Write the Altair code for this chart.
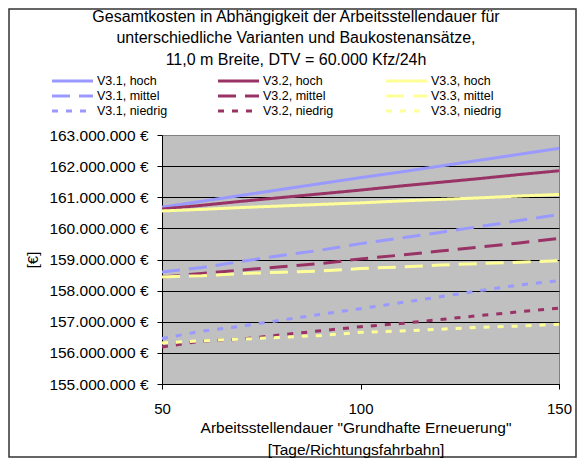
import altair as alt
import pandas as pd

# ---------------- data (values in million €) ----------------
days = [50, 60, 70, 80, 90, 100, 110, 120, 130, 140, 150]

series_names = [
    "V3.1, hoch", "V3.2, hoch", "V3.3, hoch",
    "V3.1, mittel", "V3.2, mittel", "V3.3, mittel",
    "V3.1, niedrig", "V3.2, niedrig", "V3.3, niedrig",
]

v31_hoch = [160.68, 160.87, 161.06, 161.25, 161.44, 161.63, 161.81, 162.00, 162.19, 162.38, 162.57]
v32_hoch = [160.62, 160.74, 160.87, 160.99, 161.11, 161.23, 161.36, 161.48, 161.60, 161.73, 161.85]
v33_hoch = [160.56, 160.61, 160.67, 160.72, 160.77, 160.82, 160.88, 160.93, 160.98, 161.04, 161.09]
v31_mittel = [158.60, 158.74, 158.94, 159.13, 159.30, 159.51, 159.69, 159.87, 160.06, 160.25, 160.45]
v32_mittel = [158.44, 158.55, 158.66, 158.77, 158.87, 159.02, 159.14, 159.27, 159.40, 159.53, 159.68]
v33_mittel = [158.44, 158.48, 158.55, 158.59, 158.63, 158.71, 158.76, 158.82, 158.87, 158.91, 158.96]
v31_niedrig = [156.46, 156.70, 156.86, 157.05, 157.24, 157.42, 157.61, 157.80, 158.00, 158.18, 158.32]
v32_niedrig = [156.19, 156.38, 156.44, 156.58, 156.71, 156.84, 156.94, 157.07, 157.20, 157.32, 157.44]
v33_niedrig = [156.32, 156.39, 156.44, 156.50, 156.56, 156.66, 156.70, 156.76, 156.82, 156.86, 156.92]

series_values = [v31_hoch, v32_hoch, v33_hoch, v31_mittel, v32_mittel, v33_mittel,
                 v31_niedrig, v32_niedrig, v33_niedrig]

y_ticks = [155, 156, 157, 158, 159, 160, 161, 162, 163]
x_ticks = [50, 100, 150]

title_lines = [
    "Gesamtkosten in Abhängigkeit der Arbeitsstellendauer für",
    "unterschiedliche Varianten und Baukostenansätze,",
    "11,0 m Breite, DTV = 60.000 Kfz/24h",
]
x_title_lines = ['Arbeitsstellendauer "Grundhafte Erneuerung"', "[Tage/Richtungsfahrbahn]"]
y_title = "[€]"

# ---------------- styles ----------------
colors = ["#9999FF", "#993366", "#FFFF99"] * 3
dashes = [[1, 0]] * 3 + [[18, 9]] * 3 + [[6, 8]] * 3
FONT = "Liberation Sans"

W, H = 397, 249

rows = []
for name, vals in zip(series_names, series_values):
    for d, v in zip(days, vals):
        rows.append({"series": name, "days": d, "cost": v * 1_000_000})
df = pd.DataFrame(rows)

color_enc = alt.Color("series:N", scale=alt.Scale(domain=series_names, range=colors), legend=None)
dash_enc = alt.StrokeDash("series:N", scale=alt.Scale(domain=series_names, range=dashes), legend=None)

one = pd.DataFrame({"a": [0]})

frame = alt.Chart(one).mark_rect(filled=False, stroke="#333333", strokeWidth=1.5).encode(
    x=alt.value(-153), x2=alt.value(W + 17), y=alt.value(-126), y2=alt.value(H + 73)
)

lines = alt.Chart(df).mark_line(strokeWidth=3, strokeCap="butt").encode(
    x=alt.X("days:Q",
            scale=alt.Scale(domain=[50, 150], nice=False, zero=False),
            axis=alt.Axis(values=x_ticks, grid=False, title=None, domainColor="black",
                          tickColor="black", tickSize=5, labelFont=FONT, labelFontSize=15,
                          labelColor="black", labelPadding=12, labelFlush=False)),
    y=alt.Y("cost:Q",
            scale=alt.Scale(domain=[155_000_000, 163_000_000], nice=False, zero=False),
            axis=alt.Axis(values=[t * 1_000_000 for t in y_ticks], title=None,
                          grid=True,
                          gridColor={"condition": {"test": "datum.value >= 163000000", "value": "#808080"},
                                     "value": "black"},
                          gridWidth=1, gridOpacity=1,
                          domainColor="black", tickColor="black", tickSize=5,
                          labelFont=FONT, labelFontSize=15.5, labelColor="black", labelPadding=9,
                          labelExpr="replace(replace(format(datum.value, ',.0f'), ',', '.'), ',', '.') + ' €'")),
    color=color_enc,
    strokeDash=dash_enc,
)

# legend (3 columns x 3 rows), layout computed from index
col_x = [-110, 56, 224]
row_y = [-54, -39, -24]
sym_len = 41
leg_rows = []
for i, name in enumerate(series_names):
    c, r = i % 3, i // 3
    leg_rows.append({"series": name, "lx": col_x[c], "lx2": col_x[c] + sym_len,
                     "tx": col_x[c] + sym_len + 4, "ly": row_y[r]})
leg_df = pd.DataFrame(leg_rows)

leg_sym = alt.Chart(leg_df).mark_rule(strokeWidth=3, strokeCap="butt").encode(
    x=alt.X("lx:Q", scale=None), x2="lx2:Q", y=alt.Y("ly:Q", scale=None),
    color=color_enc, strokeDash=dash_enc,
)
leg_txt = alt.Chart(leg_df).mark_text(align="left", baseline="middle", font=FONT,
                                      fontSize=12.5, color="black").encode(
    x=alt.X("tx:Q", scale=None), y=alt.Y("ly:Q", scale=None), text="series:N"
)

texts = []
title_y = [-118, -97, -75]
for line, ty in zip(title_lines, title_y):
    texts.append(alt.Chart(one).mark_text(text=line, align="center", baseline="middle",
                                          font=FONT, fontSize=16, color="black")
                 .encode(x=alt.value(134), y=alt.value(ty)))
xt_y = [H + 44, H + 66]
for line, ty in zip(x_title_lines, xt_y):
    texts.append(alt.Chart(one).mark_text(text=line, align="center", baseline="middle",
                                          font=FONT, fontSize=15.5, color="black")
                 .encode(x=alt.value(194), y=alt.value(ty)))
texts.append(alt.Chart(one).mark_text(text=y_title, align="center", baseline="middle",
                                      font=FONT, fontSize=15, color="black", angle=270)
             .encode(x=alt.value(-129), y=alt.value(125)))

chart = alt.layer(frame, lines, leg_sym, leg_txt, *texts).properties(
    width=W, height=H,
    autosize=alt.AutoSizeParams(type="none"),
    padding={"left": 154, "top": 127, "right": 18, "bottom": 74},
    background="white",
).configure_view(fill="#C0C0C0", stroke="#808080", strokeWidth=1)

chart.save("out.html", embed_options={"renderer": "svg", "actions": False})
